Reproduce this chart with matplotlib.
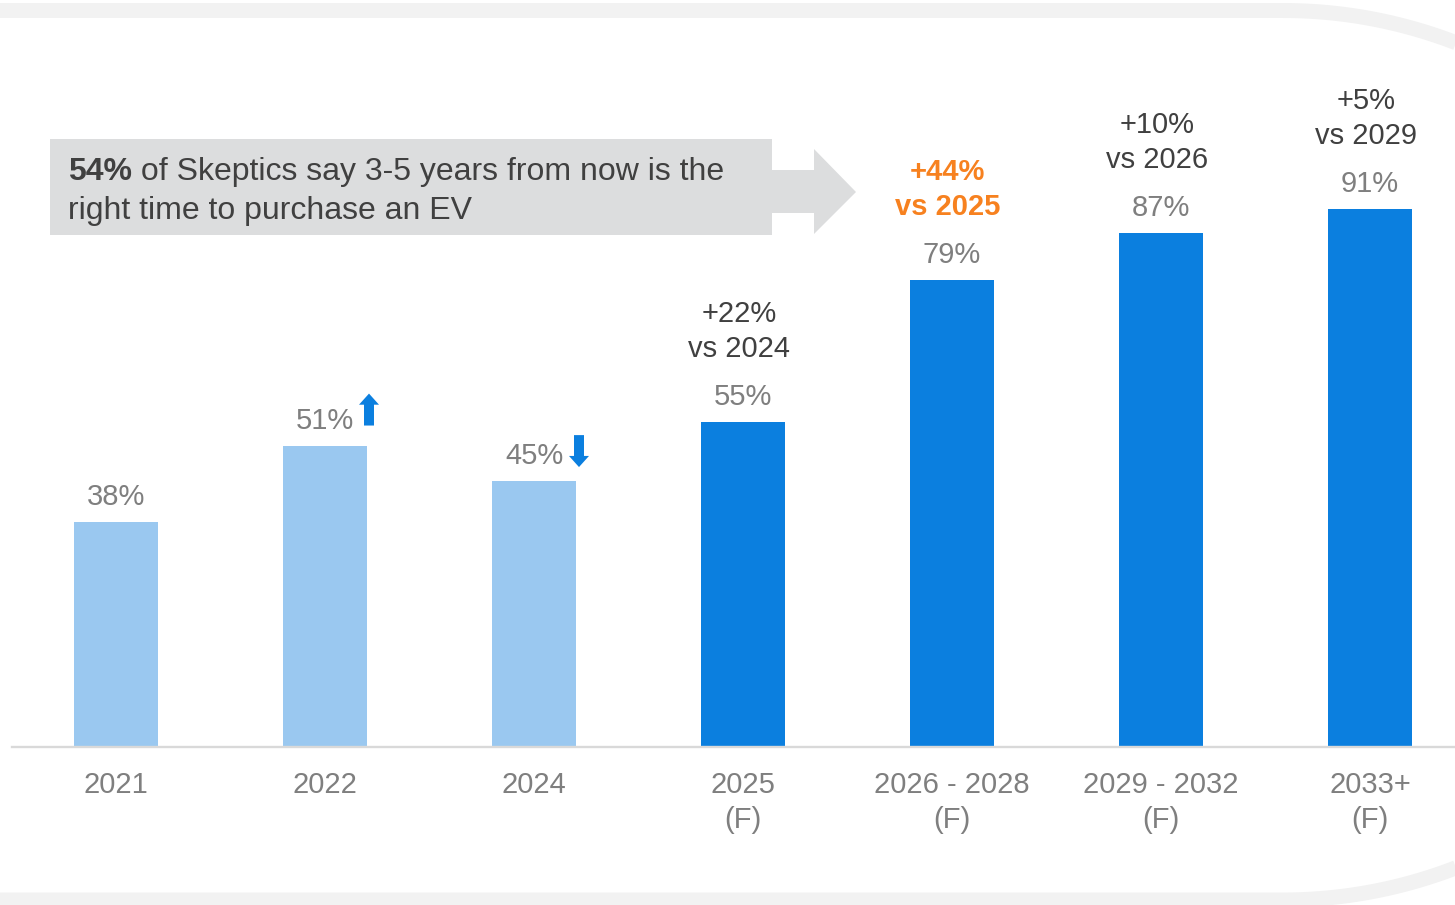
import numpy as np
import matplotlib.pyplot as plt
from matplotlib.patches import Rectangle, Polygon
from matplotlib.transforms import ScaledTranslation

# purchase-timing shares by period
categories = ['2021', '2022', '2024', '2025\n(F)', '2026 - 2028\n(F)', '2029 - 2032\n(F)', '2033+\n(F)']
values = [38, 51, 45, 55, 79, 87, 91]
is_forecast = [False, False, False, True, True, True, True]
change_labels = [None, None, None, '+22%\nvs 2024', '+44%\nvs 2025', '+10%\nvs 2026', '+5%\nvs 2029']
highlighted = [False, False, False, False, True, False, False]
trend = [None, 'up', 'down', None, None, None, None]

LIGHT = '#9AC8F0'
DARK = '#0B7FDF'
ORANGE = '#F7811F'
GREY_TXT = '#7F7F7F'
DARK_TXT = '#404040'

plt.rcParams['font.family'] = ['Liberation Sans', 'DejaVu Sans']

fig = plt.figure(figsize=(14.55, 9.05), dpi=100)

# background layer in pixel units: frame, callout box and arrow
bg = fig.add_axes([0, 0, 1, 1])
bg.set_xlim(0, 1455)
bg.set_ylim(905, 0)
bg.axis('off')

r = 480
cx = 1283
t = np.linspace(0, 0.5, 60)
top_x = np.concatenate([[-20], cx + r * np.sin(t)])
top_y = np.concatenate([[10.5], 10.5 + r - r * np.cos(t)])
bot_y = np.concatenate([[900], 900 - r + r * np.cos(t)])
bg.plot(top_x, top_y, color='#F2F2F2', lw=10.8, solid_capstyle='butt')
bg.plot(top_x, bot_y, color='#F2F2F2', lw=10.8, solid_capstyle='butt')

box_color = '#DCDDDE'
bg.add_patch(Rectangle((50, 139), 722, 96, color=box_color, lw=0))
bg.add_patch(Polygon([(772, 170), (814, 170), (814, 149), (856, 192),
                      (814, 234), (814, 213), (772, 213)], closed=True,
                     color=box_color, lw=0))

t1 = bg.text(68, 172, '54%', fontsize=23, fontweight='bold', color=DARK_TXT,
             ha='left', va='center')
bg.annotate(' of Skeptics say 3-5 years from now is the', xy=(1, 0.5), xycoords=t1,
            fontsize=23, color=DARK_TXT, ha='left', va='center')
bg.text(68, 211, 'right time to purchase an EV', fontsize=23, color=DARK_TXT,
        ha='left', va='center')

# bar chart
ax = fig.add_axes([0, 158 / 905, 1, 747 / 905])
ax.patch.set_visible(False)
x = np.arange(len(values))
ax.set_xlim(-116 / 209, (1455 - 116) / 209)
ax.set_ylim(0, 747 / 5.91)

colors = [DARK if f else LIGHT for f in is_forecast]
ax.bar(x, values, width=84 / 209, color=colors, zorder=2)

for s in ['top', 'left', 'right']:
    ax.spines[s].set_visible(False)
ax.spines['bottom'].set_color('#D9D9D9')
ax.spines['bottom'].set_linewidth(1.7)
ax.spines['bottom'].set_bounds(-0.5, ax.get_xlim()[1])

ax.set_yticks([])
ax.set_xticks(x, categories)
ax.tick_params(axis='x', length=0, pad=17, labelsize=21, labelcolor=GREY_TXT)
for lab in ax.get_xticklabels():
    lab.set_multialignment('center')
    lab.set_linespacing(1.32)

for i, v in enumerate(values):
    ax.annotate(f'{v}%', (i, v), xytext=(0, 18), textcoords='offset points',
                ha='center', va='center', fontsize=21, color=GREY_TXT)
    if change_labels[i]:
        ax.annotate(change_labels[i], (i, v), xytext=(-3, 65), textcoords='offset points',
                    ha='center', va='center', fontsize=21, linespacing=1.32,
                    color=ORANGE if highlighted[i] else DARK_TXT,
                    fontweight='bold' if highlighted[i] else 'normal')

# up / down markers beside the label
arrow_style = 'simple,head_length=0.4,head_width=0.72,tail_width=0.36'
for i, v in enumerate(values):
    if trend[i] == 'up':
        tip = ax.transData + ScaledTranslation(0.44, 0.52, fig.dpi_scale_trans)
        tail = (0, -23)
    elif trend[i] == 'down':
        tip = ax.transData + ScaledTranslation(0.45, 0.14, fig.dpi_scale_trans)
        tail = (0, 23)
    else:
        continue
    ax.annotate('', xy=(i, v), xycoords=tip, xytext=tail, textcoords='offset points',
                arrowprops=dict(arrowstyle=arrow_style, mutation_scale=20, color=DARK,
                                lw=0, shrinkA=0, shrinkB=0))

plt.savefig('out.png', dpi=100)
